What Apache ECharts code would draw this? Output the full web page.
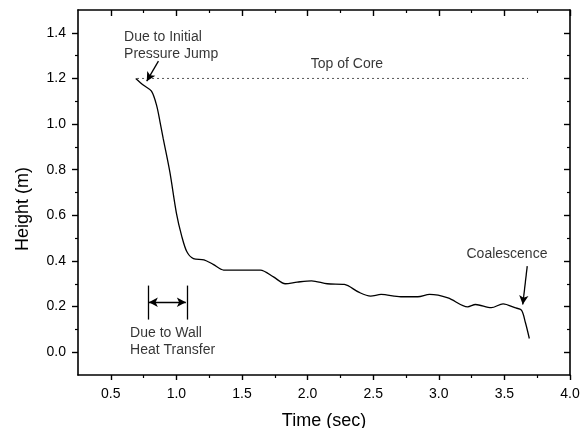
<!DOCTYPE html>
<html>
<head>
<meta charset="utf-8">
<script src="https://cdn.jsdelivr.net/npm/echarts@6/dist/echarts.min.js"></script>
<style>
html,body{margin:0;padding:0;background:#fff;}
#c{width:583px;height:428px;}
</style>
</head>
<body>
<div id="c"></div>
<script>
// ---- data ----
const timeSec = [0.69,0.75,0.81,0.85,0.875,0.90,0.95,1.00,1.04,1.08,1.13,1.21,1.28,1.36,1.50,1.64,1.74,1.83,1.92,2.03,2.15,2.28,2.39,2.48,2.56,2.71,2.84,2.93,3.07,3.22,3.28,3.40,3.49,3.58,3.63,3.66,3.69];
const heightM = [1.20,1.17,1.144,1.08,1.01,0.935,0.79,0.61,0.51,0.44,0.41,0.405,0.385,0.36,0.36,0.36,0.33,0.30,0.307,0.313,0.30,0.297,0.263,0.246,0.253,0.243,0.243,0.253,0.238,0.199,0.209,0.195,0.212,0.195,0.184,0.13,0.06];
const topOfCoreT = [0.70, 3.68];
const topOfCoreH = [1.2, 1.2];

const xMajorTicks = [0.5,1.0,1.5,2.0,2.5,3.0,3.5,4.0];
const xMinorTicks = [0.75,1.25,1.75,2.25,2.75,3.25,3.75];
const yMajorTicks = [0.0,0.2,0.4,0.6,0.8,1.0,1.2,1.4];
const yMinorTicks = [0.1,0.3,0.5,0.7,0.9,1.1,1.3];

const annoText = ['Due to Initial\nPressure Jump', 'Coalescence', 'Due to Wall\nHeat Transfer'];
const annoT = [0.601, 3.211, 0.647];
const annoH = [1.345, 0.428, 0.045];
const coreLabel = 'Top of Core';
const coreLabelPos = [2.30, 1.262];

const pressureArrow = [[0.863,1.276],[0.774,1.188]];
const coalArrow = [[3.674,0.377],[3.64,0.209]];
const bracketLeft = [[0.782,0.292],[0.782,0.143]];
const bracketRight = [[1.08,0.292],[1.08,0.143]];
const bracketArrow = [[0.79,0.219],[1.072,0.219]];

// ---- chart ----
const FONT = 'Liberation Sans, Arial, Helvetica, sans-serif';
const chart = echarts.init(document.getElementById('c'), null, {renderer:'canvas'});
const fmt = v => Number(v).toFixed(1);

function axisBase(extra){
  return Object.assign({
    type:'value', splitLine:{show:false},
  }, extra);
}

const xAxes = [
  axisBase({position:'bottom', min:0.25, max:4.0,
    name:'Time (sec)', nameLocation:'middle', nameGap:37,
    nameTextStyle:{fontFamily:FONT, fontSize:18, color:'#000'},
    axisLine:{show:true, onZero:false, lineStyle:{color:'#000', width:1.6}},
    axisTick:{show:true, inside:false, length:5, customValues:xMajorTicks, lineStyle:{color:'#000', width:1.4}},
    axisLabel:{show:true, margin:12, customValues:xMajorTicks, formatter:fmt, fontFamily:FONT, fontSize:14, color:'#000'}}),
  axisBase({position:'bottom', min:0.25, max:4.0,
    axisLine:{show:false, onZero:false},
    axisTick:{show:true, inside:false, length:3, customValues:xMinorTicks, lineStyle:{color:'#000', width:1.2}},
    axisLabel:{show:false}}),
  axisBase({position:'top', min:0.25, max:4.0,
    axisLine:{show:true, onZero:false, lineStyle:{color:'#000', width:1.6}},
    axisTick:{show:true, inside:true, length:6, customValues:xMajorTicks, lineStyle:{color:'#000', width:1.4}},
    axisLabel:{show:false}}),
  axisBase({position:'top', min:0.25, max:4.0,
    axisLine:{show:false, onZero:false},
    axisTick:{show:true, inside:true, length:3, customValues:xMinorTicks, lineStyle:{color:'#000', width:1.2}},
    axisLabel:{show:false}})
];

const yAxes = [
  axisBase({position:'left', min:-0.1, max:1.5,
    name:'Height (m)', nameLocation:'middle', nameGap:46,
    nameTextStyle:{fontFamily:FONT, fontSize:18, color:'#000', padding:[0,33,0,0]},
    axisLine:{show:true, onZero:false, lineStyle:{color:'#000', width:1.6}},
    axisTick:{show:true, inside:false, length:6, customValues:yMajorTicks, lineStyle:{color:'#000', width:1.4}},
    axisLabel:{show:true, margin:12, customValues:yMajorTicks, formatter:fmt, fontFamily:FONT, fontSize:14, color:'#000'}}),
  axisBase({position:'left', min:-0.1, max:1.5,
    axisLine:{show:false, onZero:false},
    axisTick:{show:true, inside:false, length:3, customValues:yMinorTicks, lineStyle:{color:'#000', width:1.2}},
    axisLabel:{show:false}}),
  axisBase({position:'right', min:-0.1, max:1.5,
    axisLine:{show:true, onZero:false, lineStyle:{color:'#000', width:1.6}},
    axisTick:{show:true, inside:true, length:6, customValues:yMajorTicks, lineStyle:{color:'#000', width:1.4}},
    axisLabel:{show:false}}),
  axisBase({position:'right', min:-0.1, max:1.5,
    axisLine:{show:false, onZero:false},
    axisTick:{show:true, inside:true, length:3, customValues:yMinorTicks, lineStyle:{color:'#000', width:1.2}},
    axisLabel:{show:false}})
];

function seg(pair, startSym, endSym){
  return [
    {coord:pair[0], symbol:startSym},
    {coord:pair[1], symbol:endSym}
  ];
}

const option = {
  animation:false,
  backgroundColor:'#fff',
  grid:{left:78, right:13, top:10, bottom:53, containLabel:false, outerBoundsMode:'none'},
  xAxis:xAxes,
  yAxis:yAxes,
  series:[
    {
      type:'line', xAxisIndex:0, yAxisIndex:0,
      data:timeSec.map((t,i)=>[t,heightM[i]]),
      showSymbol:false, symbol:'none', smooth:0.3,
      lineStyle:{color:'#000', width:1.3},
      markLine:{
        silent:true, animation:false, symbolSize:[7,9],
        label:{show:false},
        lineStyle:{color:'#000', width:1.3, type:'solid'},
        data:[
          seg(pressureArrow,'none','arrow'),
          seg(coalArrow,'none','arrow'),
          seg(bracketLeft,'none','none'),
          seg(bracketRight,'none','none'),
          seg(bracketArrow,'arrow','arrow')
        ]
      }
    },
    {
      type:'line', xAxisIndex:0, yAxisIndex:0,
      data:topOfCoreT.map((t,i)=>[t,topOfCoreH[i]]),
      showSymbol:false, symbol:'none',
      lineStyle:{color:'#555', width:1, type:[2,3]}
    },
    {
      type:'scatter', xAxisIndex:0, yAxisIndex:0, silent:true,
      symbolSize:0,
      data:annoText.map((s,i)=>({name:s, value:[annoT[i], annoH[i]]})),
      label:{show:true, position:'right', distance:0, align:'left', verticalAlign:'middle',
        formatter:p=>p.name, fontFamily:FONT, fontSize:14, lineHeight:17, color:'#000'}
    },
    {
      type:'scatter', xAxisIndex:0, yAxisIndex:0, silent:true,
      symbolSize:0,
      data:[{name:coreLabel, value:coreLabelPos}],
      label:{show:true, position:'inside', align:'center', verticalAlign:'middle',
        formatter:p=>p.name, fontFamily:FONT, fontSize:14, color:'#000'}
    }
  ]
};
chart.setOption(option);
</script>
</body>
</html>
